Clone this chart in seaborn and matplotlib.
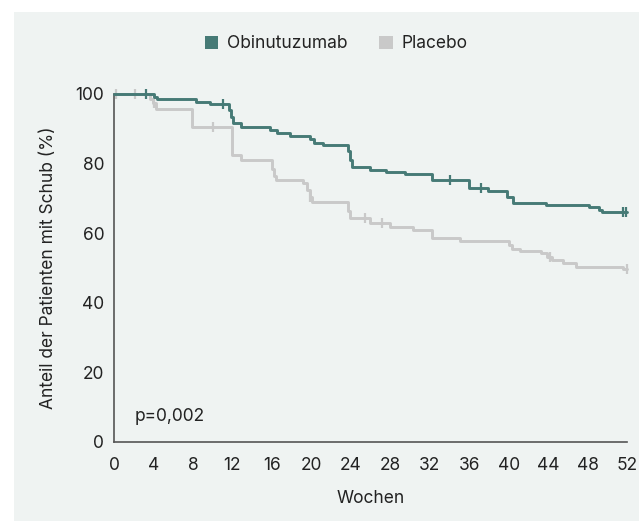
import numpy as np
import pandas as pd
import matplotlib
matplotlib.use("Agg")
import matplotlib.pyplot as plt
from matplotlib.patches import Patch, Rectangle
import seaborn as sns

# ---- data ----
groups = ["Obinutuzumab", "Placebo"]

obi_weeks = [0, 4.1, 4.4, 8.3, 9.7, 11.7, 11.9, 12.1, 12.9, 15.8, 16.5, 17.8, 19.9, 20.3,
             21.2, 23.7, 23.9, 24.1, 25.9, 27.6, 29.5, 32.2, 36.0, 37.9, 39.8, 40.4,
             43.8, 48.1, 49.2, 49.5, 52]
obi_pct = [100, 99.2, 98.5, 97.7, 97.1, 95.5, 93.5, 91.7, 90.5, 89.7, 88.7, 87.9, 87.0, 86.0,
           85.4, 83.5, 81.0, 79.1, 78.3, 77.7, 77.0, 75.3, 72.9, 72.2, 70.5, 68.8,
           68.1, 67.4, 66.8, 66.1, 66.1]
obi_censor = [3.2, 11.0, 34.1, 37.2, 51.6, 51.9]

pla_weeks = [0, 3.6, 4.0, 4.3, 7.9, 12.0, 12.9, 16.0, 16.2, 16.4, 19.2, 19.6, 19.9, 20.1,
             23.7, 23.9, 25.9, 28.0, 30.3, 32.2, 35.1, 40.0, 40.3, 41.2, 43.3, 43.9,
             44.4, 45.5, 46.8, 51.6, 52]
pla_pct = [100, 98.5, 97.3, 95.8, 90.6, 82.6, 81.1, 78.5, 76.5, 75.3, 74.3, 72.5, 70.5, 69.0,
           66.5, 64.3, 63.0, 61.9, 60.9, 58.5, 57.7, 56.6, 55.5, 55.0, 54.2, 53.3,
           52.3, 51.3, 50.4, 49.6, 49.6]
pla_censor = [0.2, 2.1, 4.1, 10.0, 19.9, 25.4, 27.2, 44.2, 52.0]

x_ticks = list(range(0, 53, 4))
y_ticks = [0, 20, 40, 60, 80, 100]
x_label = "Wochen"
y_label = "Anteil der Patienten mit Schub (%)"
p_text = "p=0,002"

colors = {"Obinutuzumab": "#467a76", "Placebo": "#c9c9c9"}


def step_value(weeks, pct, t):
    idx = np.searchsorted(np.asarray(weeks), t, side="right") - 1
    return pct[max(idx, 0)]


curves = pd.concat([
    pd.DataFrame({"week": obi_weeks, "pct": obi_pct, "group": groups[0]}),
    pd.DataFrame({"week": pla_weeks, "pct": pla_pct, "group": groups[1]}),
], ignore_index=True)

cens = pd.concat([
    pd.DataFrame({"week": obi_censor,
                  "pct": [step_value(obi_weeks, obi_pct, t) for t in obi_censor],
                  "group": groups[0]}),
    pd.DataFrame({"week": pla_censor,
                  "pct": [step_value(pla_weeks, pla_pct, t) for t in pla_censor],
                  "group": groups[1]}),
], ignore_index=True)

# ---- figure ----
sns.set_theme(style="white")
plt.rcParams["font.family"] = ["Inter", "DejaVu Sans"]
text_color = "#222222"

fig = plt.figure(figsize=(6.39, 5.21), dpi=100, facecolor="white")
bg = Rectangle((14 / 639, 0.0), 1 - 14 / 639, 1 - 12 / 521,
               transform=fig.transFigure, facecolor="#eff3f2",
               edgecolor="none", zorder=-10)
fig.add_artist(bg)
ax = fig.add_axes([114 / 639, 1 - 442 / 521, (627 - 114) / 639, (442 - 94) / 521])
ax.set_facecolor("none")
ax.set_zorder(5)

# Placebo first so Obinutuzumab lies on top
for g in [groups[1], groups[0]]:
    sub = curves[curves["group"] == g]
    sns.lineplot(data=sub, x="week", y="pct", ax=ax, color=colors[g],
                 drawstyle="steps-post", estimator=None, linewidth=2.1,
                 legend=False, clip_on=False, zorder=3 if g == groups[0] else 2)
    csub = cens[cens["group"] == g]
    sns.scatterplot(data=csub, x="week", y="pct", ax=ax, color=colors[g],
                    marker="|", s=45, linewidth=1.6, legend=False, clip_on=False,
                    zorder=4 if g == groups[0] else 2)

ax.set_xlim(0, 52)
ax.set_ylim(0, 100)
ax.set_xticks(x_ticks)
ax.set_yticks(y_ticks)
ax.tick_params(axis="both", length=0, labelsize=12.5, colors=text_color)
ax.tick_params(axis="x", pad=11)
ax.tick_params(axis="y", pad=7)
ax.set_xlabel(x_label, fontsize=12.5, color=text_color, labelpad=11)
ax.set_ylabel(y_label, fontsize=12.5, color=text_color, labelpad=13)
for side in ["top", "right"]:
    ax.spines[side].set_visible(False)
for side in ["left", "bottom"]:
    ax.spines[side].set_color("#555555")
    ax.spines[side].set_linewidth(1.2)

ax.text(2.1, 7.2, p_text, ha="left", va="center", fontsize=12.5, color=text_color)

handles = [Patch(facecolor=colors[g], edgecolor="none", label=g) for g in groups]
fig.legend(handles=handles, loc="center", bbox_to_anchor=(336 / 639, 1 - 44 / 521),
           ncol=2, frameon=False, fontsize=12.5, handlelength=0.8, handleheight=0.8,
           handletextpad=0.5, columnspacing=1.8, labelcolor=text_color)

fig.savefig("out.png", dpi=100, facecolor="white")
